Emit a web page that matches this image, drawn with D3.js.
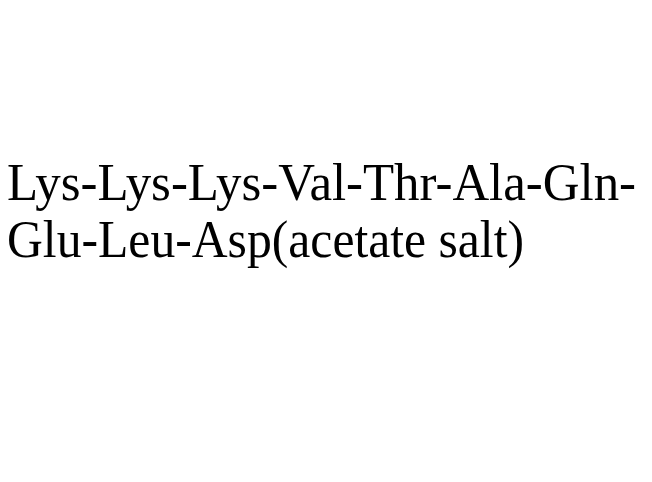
<!DOCTYPE html>
<html><head><meta charset="utf-8">
<script src="https://cdn.jsdelivr.net/npm/d3@7"></script>
<style>html,body{margin:0;padding:0;background:#fff;}</style>
</head><body>
<script>
const lines = ["Lys-Lys-Lys-Val-Thr-Ala-Gln-", "Glu-Leu-Asp(acetate salt)"];
const baselines = [200, 257];
const widths = [629, 517];
const svg = d3.select("body").append("svg").attr("width", 652).attr("height", 482);
svg.append("rect").attr("width", 652).attr("height", 482).attr("fill", "#fff");
svg.selectAll("text.l").data(lines).join("text")
  .attr("class", "l")
  .attr("x", 7)
  .attr("y", (d, i) => baselines[i])
  .attr("font-family", "'Liberation Serif', 'Times New Roman', serif")
  .attr("font-size", 52)
  .attr("textLength", (d, i) => widths[i])
  .attr("lengthAdjust", "spacingAndGlyphs")
  .attr("fill", "#000")
  .text(d => d);
</script>
</body></html>
